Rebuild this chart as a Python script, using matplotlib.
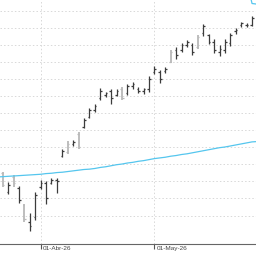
import numpy as np
import pandas as pd
import matplotlib
matplotlib.use("Agg")
import matplotlib.pyplot as plt

# ------------------------------- DATA ---------------------------------------
# Trading days (Good Friday closed)
dates = pd.bdate_range("2026-03-23", "2026-05-27").drop(pd.Timestamp("2026-04-03"))

opens = [11.75, 11.20, 11.62, 11.30, 10.80, 10.30, 10.45, 11.35, 11.45, 11.45,
         11.55, 12.25, 12.35, 12.60, 12.90, 13.10, 13.40, 13.60, 13.95, 14.05,
         14.15, 14.05, 14.20, 14.10, 14.30, 14.20, 14.15, 14.20, 14.70, 14.70,
         14.75, 15.00, 15.35, 15.35, 15.50, 15.50, 15.45, 15.85, 15.80, 15.60,
         15.30, 15.35, 15.55, 15.90, 16.10, 16.10, 16.10]
highs = [11.78, 11.48, 11.69, 11.37, 10.84, 10.57, 11.19, 11.54, 11.51, 11.60,
         11.60, 12.45, 12.69, 12.72, 12.95, 13.36, 13.66, 13.77, 14.24, 14.12,
         14.21, 14.21, 14.27, 14.36, 14.42, 14.27, 14.24, 14.59, 14.89, 14.77,
         14.86, 15.36, 15.44, 15.56, 15.65, 15.56, 15.80, 16.12, 15.83, 15.68,
         15.50, 15.68, 15.86, 16.00, 16.18, 16.15, 16.35]
lows = [11.34, 11.12, 11.34, 10.87, 10.31, 10.05, 10.37, 11.28, 10.84, 11.42,
        11.16, 12.22, 12.30, 12.54, 12.45, 13.07, 13.36, 13.54, 13.89, 13.98,
        13.77, 14.00, 13.89, 14.04, 14.22, 14.09, 14.06, 14.12, 14.65, 14.39,
        14.68, 14.97, 15.09, 15.30, 15.44, 15.21, 15.39, 15.77, 15.53, 15.27,
        15.18, 15.27, 15.47, 15.83, 16.03, 16.03, 16.06]
closes = [11.40, 11.40, 11.45, 10.95, 10.40, 10.20, 11.10, 11.45, 11.00, 11.55,
          11.50, 12.40, 12.60, 12.65, 12.50, 13.30, 13.60, 13.70, 14.15, 14.10,
          13.95, 14.15, 13.95, 14.30, 14.35, 14.15, 14.20, 14.50, 14.80, 14.50,
          14.80, 15.30, 15.20, 15.50, 15.60, 15.30, 15.75, 16.05, 15.60, 15.35,
          15.40, 15.60, 15.80, 15.95, 16.15, 16.10, 16.30]
# bars drawn in light grey
light_bars = [0, 2, 4, 12, 14, 22, 31, 36]

# long moving average, from one day before the first bar to one day after
ma_values = [11.63, 11.64, 11.65, 11.66, 11.67, 11.68, 11.69, 11.70, 11.71, 11.73,
             11.74, 11.76, 11.77, 11.79, 11.81, 11.83, 11.85, 11.86, 11.88, 11.91,
             11.93, 11.96, 11.99, 12.01, 12.04, 12.06, 12.09, 12.11, 12.14, 12.17,
             12.19, 12.21, 12.24, 12.26, 12.29, 12.31, 12.34, 12.37, 12.40, 12.43,
             12.46, 12.49, 12.51, 12.54, 12.57, 12.60, 12.63, 12.66, 12.67]
# upper line, only its last piece enters the chart
upper_values = [17.40, 16.72, 16.70]

tick_labels = ["01-Abr-26", "01-May-26"]
grid_levels = [10.5, 11.0, 11.5, 12.0, 12.5, 13.0, 13.5, 14.0, 14.5, 15.0, 15.5, 16.0, 16.5]

# ------------------------------- PLOTTING -----------------------------------
idx = np.arange(len(dates))
dark_col = "#3c3c3c"
light_col = "#b9b9b9"
cyan = "#55c6ee"
grid_col = "#d8d8d8"

fig = plt.figure(figsize=(2.56, 2.56), dpi=100)
ax = fig.add_axes([0, 1 - 244 / 256, 1, 244 / 256])

# grid first so bars sit on top
for g in grid_levels:
    ax.axhline(g, color=grid_col, lw=0.7, linestyle=(0, (1.5, 2.2)), zorder=0)

month_starts = [i for i in range(1, len(dates)) if dates[i].month != dates[i - 1].month]
for m in month_starts:
    ax.axvline(m, color=grid_col, lw=0.7, linestyle=(0, (1.5, 2.2)), zorder=0)

# OHLC bars
for i in idx:
    light = i in light_bars
    col = light_col if light else dark_col
    lw = 1.3 if light else 0.9
    ax.vlines(i, lows[i], highs[i], color=col, lw=lw, zorder=2)
    ax.hlines(opens[i], i - 0.3, i, color=col, lw=0.9, zorder=2)
    ax.hlines(closes[i], i, i + 0.3, color=col, lw=0.9, zorder=2)

ma_x = np.arange(-1, len(ma_values) - 1)
ax.plot(ma_x, ma_values, color=cyan, lw=0.9, zorder=3)
up_x = np.arange(len(dates) - 2, len(dates) + 1)
ax.plot(up_x, upper_values, color=cyan, lw=0.9, zorder=3)

ax.set_xlim(-0.5, 46.73)
ax.set_ylim(9.664, 16.823)

# ticks without built-in labels; labels sit just right of each tick
ax.set_xticks(month_starts)
ax.set_xticklabels([])
ax.tick_params(axis="x", direction="out", length=3.5, width=0.8, color="#555555")
for m, lab in zip(month_starts, tick_labels):
    ax.annotate(lab, xy=(m, 0), xycoords=("data", "axes fraction"),
                xytext=(1.3, -1.6), textcoords="offset points",
                ha="left", va="top", fontsize=4.6, family="Liberation Sans",
                color="#444444", annotation_clip=False)
ax.set_yticks([])

for side in ["left", "right", "top"]:
    ax.spines[side].set_visible(False)
ax.spines["bottom"].set_color("#666666")
ax.spines["bottom"].set_linewidth(0.8)

fig.savefig("out.png", dpi=100)
plt.close(fig)
